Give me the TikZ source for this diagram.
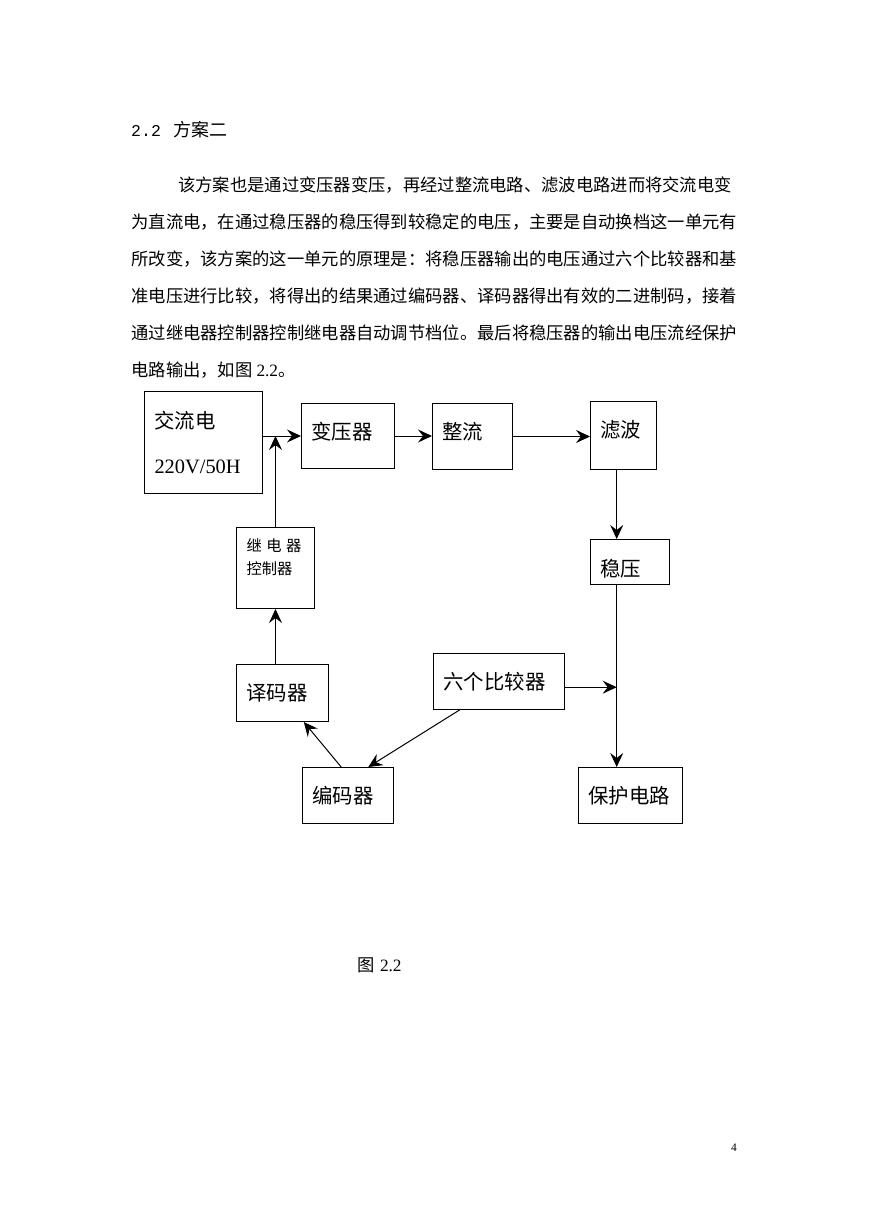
\documentclass[tikz,border=0pt]{standalone}
\usepackage{fontspec}
\setmainfont{Liberation Serif}
\newfontfamily\cjk{Noto Sans CJK SC}
\newfontfamily\asc{Liberation Mono}
\usetikzlibrary{arrows.meta}
\XeTeXlinebreaklocale "zh"
\XeTeXlinebreakskip=0pt plus 1pt
\newcommand\bodyfont{\fontsize{17.3}{20}\selectfont}
\newcommand\lblfont{\fontsize{20.4}{24}\selectfont\cjk}
\tikzset{
  txt/.style={inner sep=0pt, anchor=base west, font=\bodyfont},
  blk/.style={draw, line width=1pt, inner xsep=10pt, inner ysep=0pt, align=left, anchor=north west, font=\lblfont},
  dims/.style n args={3}{text width=#1, text height=#2, text depth=#3},
  arr/.style={line width=1pt, -{Stealth[length=14pt, width=13pt, inset=5pt]}}
}

\begin{document}
\begin{tikzpicture}[x=1pt, y=-1pt]
\useasboundingbox[fill=white] (0,0) rectangle (869,1228);
% heading and paragraph
\node[txt] (hd) at (131,136.7) {{\asc\fontsize{16.5}{18}\selectfont 2.2}\hspace{13pt}{\cjk\fontsize{18}{20}\selectfont 方案二}};
\node[txt] (l1) at (178,191.5) {\makebox[559.9pt][s]{\cjk 该方案也是通过变压器变压，再经过整流电路、滤波电路进而将交流电变}};
\node[txt] (l2) at (131.2,228.5) {\makebox[606.7pt][s]{\cjk 为直流电，在通过稳压器的稳压得到较稳定的电压，主要是自动换档这一单元有}};
\node[txt] (l3) at (131.2,265.5) {\makebox[606.7pt][s]{\cjk 所改变，该方案的这一单元的原理是：将稳压器输出的电压通过六个比较器和基}};
\node[txt] (l4) at (131.2,302.5) {\makebox[606.7pt][s]{\cjk 准电压进行比较，将得出的结果通过编码器、译码器得出有效的二进制码，接着}};
\node[txt] (l5) at (131.2,339.5) {\makebox[606.7pt][s]{\cjk 通过继电器控制器控制继电器自动调节档位。最后将稳压器的输出电压流经保护}};
\node[txt] (l6) at (131.2,376.5) {{\cjk 电路输出，如图}\hspace{4pt}2.2{\cjk 。}};

% blocks
\node[blk, dims={98pt}{36.8pt}{65.2pt}, font={\fontsize{20.4}{45.5}\selectfont}] (ac) at (144,391) {{\cjk 交流电}\\220V/50H};
\node[blk, dims={73pt}{35.8pt}{29.2pt}] (tf) at (301,403) {变压器};
\node[blk, dims={60pt}{35.6pt}{30.4pt}] (rect) at (432,403) {整流};
\node[blk, dims={46pt}{36pt}{32pt}] (filt) at (590,401) {滤波};
\node[blk, dims={59pt}{37pt}{8pt}] (reg) at (590,539) {稳压};
\node[blk, dims={58pt}{23.8pt}{57.2pt}, font={\fontsize{15.3}{23.3}\selectfont\cjk}] (relay) at (236,527) {继\hspace{4.5pt}电\hspace{4.5pt}器\\控制器};
\node[blk, dims={72pt}{36.2pt}{20.8pt}] (dec) at (236,664) {译码器};
\node[blk, dims={111pt}{35.6pt}{20.4pt}] (cmp) at (433,653) {六个比较器};
\node[blk, dims={71pt}{36pt}{20pt}] (enc) at (302,767) {编码器};
\node[blk, dims={84pt}{35.5pt}{20.5pt}] (prot) at (578,767) {保护电路};
\coordinate (trunk) at (616.7,0);

% connectors
\draw[arr] (ac.east |- tf.west) -- (tf.west);
\draw[arr] (relay.north) -- (relay.north |- tf.west);
\draw[arr] (tf.east) -- (tf.east -| rect.west);
\draw[arr] (rect.east) -- (rect.east -| filt.west);
\draw[arr] (filt.south -| trunk) -- (reg.north -| trunk);
\draw[arr] (reg.south -| trunk) -- (prot.north -| trunk);
\draw[arr] ([yshift=-5.7pt]cmp.east) -- ([yshift=-5.7pt]cmp.east -| trunk);
\draw[arr] ([xshift=-39.5pt]cmp.south) -- ([xshift=20.3pt]enc.north);
\draw[arr] ([xshift=-6.8pt]enc.north) -- ([xshift=21.3pt]dec.south);
\draw[arr] (dec.north -| relay.south) -- (relay.south);

% caption and page number
\node[txt] (cap) at (357.5,971.6) {{\cjk 图}\hspace{5pt}2.2};
\node[inner sep=0pt, anchor=base, font=\fontsize{11.5}{12}\selectfont] (pg) at (734,1151) {4};
\end{tikzpicture}
\end{document}
